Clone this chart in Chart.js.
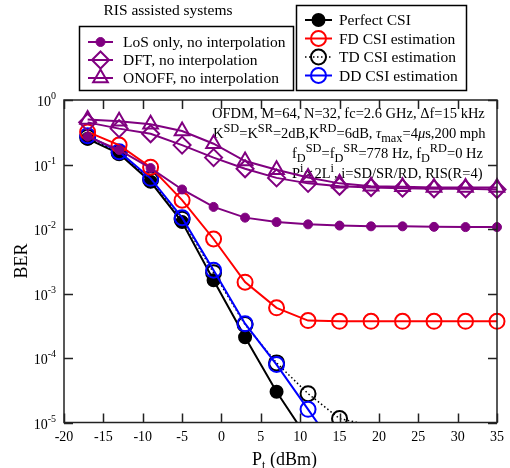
<!DOCTYPE html>
<html>
<head>
<meta charset="utf-8">
<title>BER vs transmit power</title>
<script src="https://cdn.jsdelivr.net/npm/chart.js@4"></script>
<style>
  html, body { margin: 0; padding: 0; background: #fff; }
  .chart-box { width: 510px; height: 468px; }
</style>
</head>
<body>
<div class="chart-box"><canvas id="berChart"></canvas></div>
<script>
// transmit power points (dBm)
const ptDbm = [-17, -13, -9, -5, -1, 3, 7, 11, 15, 19, 23, 27, 31, 35];

// BER curves
const berPerfect = [0.25, 0.147, 0.054, 0.0128, 0.0016, 2.1e-4, 3.0e-5, 5.5e-6];
const berFd = [0.32, 0.20, 0.091, 0.028, 0.0070, 0.0015, 6.0e-4, 3.8e-4, 3.7e-4, 3.7e-4, 3.7e-4, 3.7e-4, 3.7e-4, 3.7e-4];
const berTd = [0.265, 0.152, 0.058, 0.0142, 0.0021, 3.3e-4, 8.4e-5, 2.8e-5, 1.15e-5, 9.0e-6];
const berDd = [0.28, 0.158, 0.061, 0.015, 0.0023, 3.4e-4, 7.9e-5, 1.6e-5, 3.2e-6];
const berLos = [0.27, 0.168, 0.088, 0.041, 0.022, 0.015, 0.0128, 0.0118, 0.0113, 0.011, 0.011, 0.0108, 0.0107, 0.0107];
const berDft = [0.45, 0.36, 0.30, 0.20, 0.128, 0.086, 0.062, 0.051, 0.046, 0.044, 0.043, 0.042, 0.042, 0.041];
const berOnoff = [0.50, 0.47, 0.42, 0.33, 0.21, 0.113, 0.083, 0.063, 0.051, 0.046, 0.045, 0.044, 0.044, 0.044];

// axis ticks
const xTicks = [-20, -15, -10, -5, 0, 5, 10, 15, 20, 25, 30, 35];
const yTickExps = [0, -1, -2, -3, -4, -5];

const Y_MIN = 1e-5;
const FONT = '"Liberation Serif", "Times New Roman", serif';
const purple = '#800080';
const none = 'rgba(0,0,0,0)';

function series(vals) {
  return vals.map((v, i) => ({ x: ptDbm[i], y: v }));
}

const datasets = [
  { label: 'LoS only, no interpolation', data: series(berLos), borderColor: purple,
    pointBackgroundColor: purple, pointStyle: 'circle', radius: 4.5, pointBorderWidth: 1, order: 0 },
  { label: 'ONOFF, no interpolation', data: series(berOnoff), borderColor: purple,
    pointBackgroundColor: none, pointStyle: 'triangle', radius: 8.5, order: 1 },
  { label: 'DFT, no interpolation', data: series(berDft), borderColor: purple,
    pointBackgroundColor: none, pointStyle: 'rectRot', radius: 8.5, order: 2 },
  { label: 'FD CSI estimation', data: series(berFd), borderColor: '#ff0000',
    pointBackgroundColor: none, pointStyle: 'circle', radius: 7.5, order: 3 },
  { label: 'DD CSI estimation', data: series(berDd), borderColor: '#0000ff',
    pointBackgroundColor: none, pointStyle: 'circle', radius: 7.5, order: 4 },
  { label: 'TD CSI estimation', data: series(berTd), borderColor: '#000',
    borderDash: [1.5, 2.5], borderWidth: 1.5,
    pointBackgroundColor: none, pointStyle: 'circle', radius: 7.5, order: 5 },
  { label: 'Perfect CSI', data: series(berPerfect), borderColor: '#000',
    pointBackgroundColor: '#000', pointStyle: 'circle', radius: 6, order: 6 }
];
datasets.forEach(d => {
  const r = d.radius;
  d.backgroundColor = d.pointBackgroundColor;
  d.pointBorderColor = d.borderColor;
  if (d.borderWidth === undefined) d.borderWidth = 2;
  if (d.pointBorderWidth === undefined) d.pointBorderWidth = 2;
  // markers whose centre falls below the axis range are not drawn
  d.pointRadius = c => (c.raw && c.raw.y < Y_MIN ? 0 : r);
  d.pointHoverRadius = d.pointRadius;
  d.tension = 0;
  d.clip = { left: 0, top: 12, right: 12, bottom: 0 };
});

const leftLegend = ['LoS only, no interpolation', 'DFT, no interpolation', 'ONOFF, no interpolation'];
const rightLegend = ['Perfect CSI', 'FD CSI estimation', 'TD CSI estimation', 'DD CSI estimation'];

// text pieces: [text, mode] where mode is '', 'sup', 'sub' or 'it'
const notes = [
  { x: 212, y: 118, segs: [['OFDM, M=64, N=32, fc=2.6 GHz, \u0394f=15 kHz', '']] },
  { x: 213, y: 138, segs: [['K', ''], ['SD', 'sup'], ['=K', ''], ['SR', 'sup'], ['=2dB,K', ''], ['RD', 'sup'],
    ['=6dB, ', ''], ['\u03c4', 'it'], ['max', 'sub'], ['=4', ''], ['\u03bc', 'it'], ['s,200 mph', '']] },
  { x: 292, y: 158, segs: [['f', ''], ['D', 'sub'], ['SD', 'sup'], ['=f', ''], ['D', 'sub'], ['SR', 'sup'],
    ['=778 Hz, f', ''], ['D', 'sub'], ['RD', 'sup'], ['=0 Hz', '']] },
  { x: 292, y: 178, segs: [['P', ''], ['i', 'sup'], ['\u221d2L', ''], ['i', 'sup'], [', i=SD/SR/RD, RIS(R=4)', '']] }
];

function drawRich(ctx, x, y, segs, size) {
  ctx.textAlign = 'left';
  ctx.textBaseline = 'alphabetic';
  let cx = x;
  for (const [t, m] of segs) {
    const small = m === 'sup' || m === 'sub';
    const fs = small ? size * 0.85 : size;
    ctx.font = (m === 'it' ? 'italic ' : '') + fs + 'px ' + FONT;
    const dy = m === 'sup' ? -size * 0.4 : m === 'sub' ? size * 0.25 : 0;
    ctx.fillText(t, cx, y + dy);
    cx += ctx.measureText(t).width;
  }
  return cx - x;
}

function legendRow(ctx, chart, label, x0, x1, y, tx) {
  const d = chart.data.datasets.find(s => s.label === label);
  ctx.save();
  ctx.strokeStyle = d.borderColor;
  ctx.lineWidth = d.borderWidth;
  ctx.setLineDash(d.borderDash || []);
  ctx.beginPath();
  ctx.moveTo(x0, y);
  ctx.lineTo(x1, y);
  ctx.stroke();
  ctx.setLineDash([]);
  ctx.fillStyle = d.pointBackgroundColor;
  ctx.lineWidth = d.pointBorderWidth;
  Chart.helpers.drawPoint(ctx, { pointStyle: d.pointStyle, radius: d.radius, rotation: 0,
    borderWidth: d.pointBorderWidth }, (x0 + x1) / 2, y);
  ctx.restore();
  ctx.fillStyle = '#000';
  ctx.font = '15.5px ' + FONT;
  ctx.textAlign = 'left';
  ctx.textBaseline = 'middle';
  ctx.fillText(label, tx, y + 1);
}

const decorations = {
  id: 'decorations',
  beforeDatasetsDraw(chart) {
    const ctx = chart.ctx;
    ctx.save();
    ctx.fillStyle = '#000';
    notes.forEach(n => drawRich(ctx, n.x, n.y, n.segs, 14.5));
    ctx.restore();
  },
  afterDatasetsDraw(chart) {
    const ctx = chart.ctx;
    const a = chart.chartArea;
    const xs = chart.scales.x, ys = chart.scales.y;
    ctx.save();

    // frame and inward ticks
    ctx.strokeStyle = '#222';
    ctx.lineWidth = 1.5;
    ctx.strokeRect(a.left, a.top, a.right - a.left, a.bottom - a.top);
    ctx.beginPath();
    xTicks.forEach(v => {
      const px = Math.round(xs.getPixelForValue(v)) + 0.5;
      ctx.moveTo(px, a.bottom); ctx.lineTo(px, a.bottom - 9);
      ctx.moveTo(px, a.top); ctx.lineTo(px, a.top + 9);
    });
    yTickExps.forEach(e => {
      const py = Math.round(ys.getPixelForValue(Math.pow(10, e))) + 0.5;
      ctx.moveTo(a.left, py); ctx.lineTo(a.left + 9, py);
      ctx.moveTo(a.right, py); ctx.lineTo(a.right - 9, py);
    });
    ctx.stroke();

    // tick labels
    ctx.fillStyle = '#000';
    ctx.font = '14px ' + FONT;
    ctx.textAlign = 'center';
    ctx.textBaseline = 'middle';
    xTicks.forEach(v => ctx.fillText(String(v), xs.getPixelForValue(v), a.bottom + 15));
    yTickExps.forEach(e => {
      const py = ys.getPixelForValue(Math.pow(10, e));
      ctx.font = '14px ' + FONT;
      const w10 = ctx.measureText('10').width;
      ctx.font = '10px ' + FONT;
      const ws = ctx.measureText(String(e)).width;
      const x = 56 - w10 - ws;
      ctx.textAlign = 'left';
      ctx.textBaseline = 'alphabetic';
      ctx.font = '14px ' + FONT;
      ctx.fillText('10', x, py + 6);
      ctx.font = '10px ' + FONT;
      ctx.fillText(String(e), x + w10, py - 1);
    });

    // axis titles
    ctx.textBaseline = 'alphabetic';
    ctx.textAlign = 'left';
    ctx.font = '18px ' + FONT;
    const wP = ctx.measureText('P').width;
    ctx.font = '12px ' + FONT;
    const wt = ctx.measureText('t').width;
    ctx.font = '18px ' + FONT;
    const wRest = ctx.measureText(' (dBm)').width;
    const x0 = (a.left + a.right) / 2 - (wP + wt + wRest) / 2 + 4;
    ctx.fillText('P', x0, 465);
    ctx.font = '12px ' + FONT;
    ctx.fillText('t', x0 + wP, 469);
    ctx.font = '18px ' + FONT;
    ctx.fillText(' (dBm)', x0 + wP + wt, 465);

    ctx.save();
    ctx.translate(27, 261);
    ctx.rotate(-Math.PI / 2);
    ctx.textAlign = 'center';
    ctx.fillText('BER', 0, 0);
    ctx.restore();

    // legends
    ctx.font = '15.5px ' + FONT;
    ctx.textAlign = 'center';
    ctx.fillText('RIS assisted systems', 168, 15);
    ctx.strokeStyle = '#000';
    ctx.lineWidth = 1.5;
    ctx.strokeRect(79.5, 26.5, 214, 64);
    ctx.strokeRect(296.5, 5.5, 170, 85);
    leftLegend.forEach((l, i) => legendRow(ctx, chart, l, 88, 113, 42 + i * 18, 123));
    rightLegend.forEach((l, i) => legendRow(ctx, chart, l, 305, 332, 20 + i * 18.5, 339));

    ctx.restore();
  }
};

new Chart(document.getElementById('berChart'), {
  type: 'line',
  data: { datasets },
  options: {
    responsive: true,
    maintainAspectRatio: false,
    animation: false,
    layout: { padding: { left: 64, top: 100, right: 13, bottom: 45.5 } },
    plugins: { legend: { display: false }, tooltip: { enabled: false } },
    scales: {
      x: {
        type: 'linear', min: -20, max: 35,
        ticks: { display: false }, grid: { display: false }, border: { display: false },
        afterFit: s => { s.height = 0; }
      },
      y: {
        type: 'logarithmic', min: Y_MIN, max: 1,
        ticks: { display: false }, grid: { display: false }, border: { display: false },
        afterFit: s => { s.width = 0; }
      }
    }
  },
  plugins: [decorations]
});
</script>
</body>
</html>
